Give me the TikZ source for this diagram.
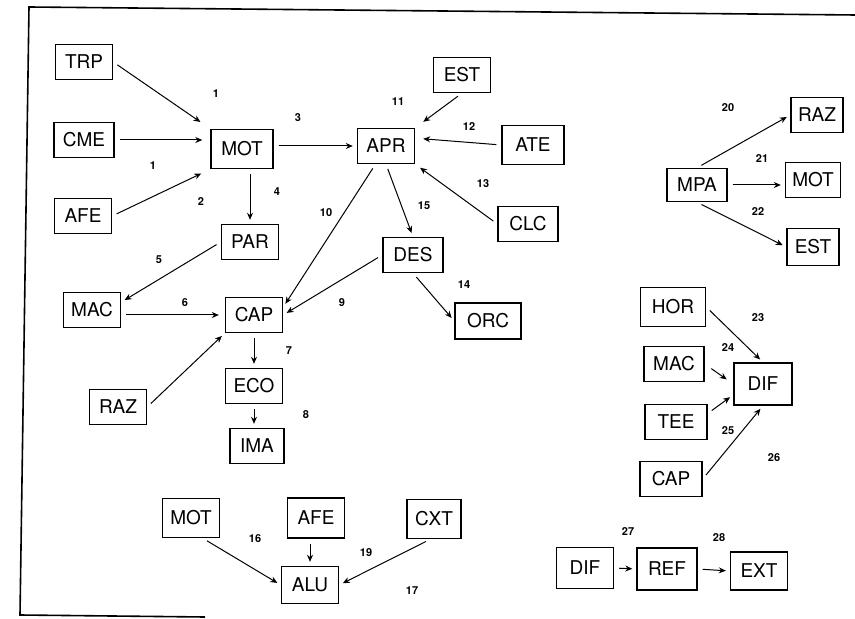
\documentclass[tikz,border=0pt]{standalone}
\usepackage{fontspec}
\setmainfont{TeX Gyre Heros}
\usetikzlibrary{arrows.meta}
\tikzset{
  box/.style={rectangle, draw, line width=0.7pt, minimum width=28.5pt,
              minimum height=17.5pt, inner sep=1pt,
              font=\fontsize{9.5}{11}\selectfont},
  bigbox/.style={box, minimum width=31pt, minimum height=19.5pt},
  num/.style={inner sep=0pt, font=\fontsize{5.5}{6}\selectfont\bfseries},
  conn/.style={-{Stealth[length=3.5pt,width=3pt]}, line width=0.5pt,
               shorten <=2.5pt, shorten >=2pt},
}

\begin{document}
\begin{tikzpicture}[x=0.5pt,y=-0.5pt]
  \useasboundingbox (0,0) rectangle (855,619);
  % frame
  \draw[line width=0.8pt] (205,617) -- (20,615) -- (29,7) -- (855,15);

  % left part
  \node[box] (trp) at (84,62) {TRP};
  \node[box, minimum width=30pt] (cme) at (84,140) {CME};
  \node[box] (afeA) at (83,216) {AFE};
  \node[bigbox] (mot) at (242,149) {MOT};
  \node[box] (apr) at (386,146) {APR};
  \node[box] (par) at (250,242) {PAR};
  \node[box, minimum width=30pt] (des) at (413,255) {DES};
  \node[box] (macA) at (92,310) {MAC};
  \node[box] (cap) at (254,315) {CAP};
  \node[box] (eco) at (254,386) {ECO};
  \node[box, minimum width=27pt] (ima) at (257,446) {IMA};
  \node[box] (razA) at (118,407) {RAZ};
  \node[box] (est) at (462,75) {EST};
  \node[bigbox] (ate) at (533,145) {ATE};
  \node[box, minimum width=30pt] (clc) at (528,224) {CLC};
  \node[bigbox, minimum width=33pt, minimum height=18pt] (orc) at (488,321) {ORC};

  % bottom part
  \node[box, minimum height=19.5pt] (motB) at (191,518) {MOT};
  \node[box, minimum height=20pt] (afeB) at (316,518) {AFE};
  \node[box, minimum width=27pt, minimum height=19.5pt] (cxt) at (434,519) {CXT};
  \node[box, minimum height=18.5pt] (alu) at (310,585) {ALU};

  % right part
  \node[box, minimum width=30pt, minimum height=16.5pt] (mpa) at (697,185) {MPA};
  \node[box, minimum width=26pt] (razB) at (817,115) {RAZ};
  \node[box, minimum width=27.5pt] (motC) at (813,180) {MOT};
  \node[box, minimum width=26pt, minimum height=18.5pt] (estB) at (813,247) {EST};
  \node[bigbox, minimum width=32.5pt] (hor) at (673,307) {HOR};
  \node[box, minimum width=30pt] (macB) at (674,364) {MAC};
  \node[bigbox, minimum width=29pt, minimum height=21pt] (dif) at (763,384) {DIF};
  \node[box, minimum width=31pt] (tee) at (676,422) {TEE};
  \node[box, minimum width=31pt] (capB) at (671,479) {CAP};
  \node[box, minimum height=20.5pt] (difB) at (585,568) {DIF};
  \node[box, minimum width=30pt, minimum height=21pt] (ref) at (667,569) {REF};
  \node[box, minimum height=19pt] (ext) at (759,571) {EXT};

  % numbers
  \node[num] (n1) at (216,94) {1};
  \node[num] (n1b) at (153,166) {1};
  \node[num] (n2) at (201,202) {2};
  \node[num] (n3) at (298,118) {3};
  \node[num] (n4) at (277,192) {4};
  \node[num] (n5) at (159,260) {5};
  \node[num] (n6) at (185,303) {6};
  \node[num] (n7) at (289,351) {7};
  \node[num] (n8) at (306,415) {8};
  \node[num] (n9) at (342,303) {9};
  \node[num] (n10) at (326,213) {10};
  \node[num] (n11) at (398,102) {11};
  \node[num] (n12) at (469,127) {12};
  \node[num] (n13) at (483,184) {13};
  \node[num] (n14) at (464,285) {14};
  \node[num] (n15) at (424,206) {15};
  \node[num] (n16) at (255,539) {16};
  \node[num] (n17) at (412,591) {17};
  \node[num] (n19) at (366,553) {19};
  \node[num] (n20) at (728,108) {20};
  \node[num] (n21) at (762,159) {21};
  \node[num] (n22) at (758,212) {22};
  \node[num] (n23) at (758,318) {23};
  \node[num] (n24) at (728,348) {24};
  \node[num] (n25) at (728,431) {25};
  \node[num] (n26) at (774,458) {26};
  \node[num] (n27) at (628,532) {27};
  \node[num] (n28) at (719,538) {28};

  % connectors
  \draw[conn, shorten >=6pt] (trp.east) -- (mot.north west);
  \draw[conn, shorten >=4pt] (cme.east) -- (cme.east -| mot.west);
  \draw[conn, shorten >=5pt] (afeA.east) -- (mot.south west);
  \draw[conn] (apr.west -| mot.east) -- (apr.west);
  \draw[conn] (mot.south -| par.north) -- (par.north);
  \draw[conn] (par.west) -- (macA.15);
  \draw[conn] (apr.-120) -- (cap.15);
  \draw[conn] (apr.south) -- (des.north);
  \draw[conn] (des.west) -- (cap.east);
  \draw[conn] (des.south) -- (orc.west);
  \draw[conn, shorten >=5pt] (est.south) -- (apr.north east);
  \draw[conn, shorten >=4pt] (ate.west) -- (apr.15);
  \draw[conn, shorten >=3pt] (clc.west) -- (apr.south east);
  \draw[conn, shorten >=3pt] (cap.west -| macA.east) -- (cap.west);
  \draw[conn] (razA.east) -- (cap.south west);
  \draw[conn] (cap.south) -- (eco.north);
  \draw[conn] (eco.south) -- (eco.south |- ima.north);
  \draw[conn] (motB.-60) -- (alu.west);
  \draw[conn] (alu.north |- afeB.south) -- (alu.north);
  \draw[conn] (cxt.-100) -- (alu.east);
  \draw[conn] (mpa.north) -- (razB.west);
  \draw[conn] (mpa.east) -- (mpa.east -| motC.west);
  \draw[conn] (mpa.south) -- (estB.west);
  \draw[conn] (hor.east) -- (dif.north);
  \draw[conn, shorten <=4pt, shorten >=4pt] (macB.east) -- (dif.west);
  \draw[conn] (tee.15) -- (dif.200);
  \draw[conn] (capB.east) -- (dif.south);
  \draw[conn] (difB.east) -- (ref.west);
  \draw[conn] (ref.east) -- (ext.west);
\end{tikzpicture}
\end{document}
